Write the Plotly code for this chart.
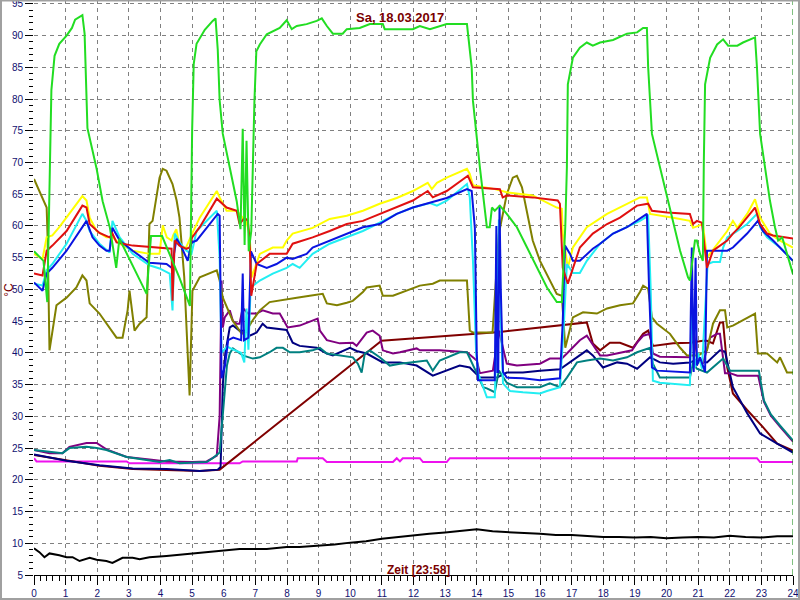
import plotly.graph_objects as go

# ---------------- data (hours, °C) ----------------
t_green = [0, 0.3, 0.42, 0.47, 0.5, 0.55, 0.65, 0.8, 1.03, 1.2, 1.3, 1.53, 1.6, 1.69, 1.98, 2.17, 2.4, 2.6, 2.7, 3.0, 3.3, 3.56, 3.7, 4.05, 4.6, 4.93, 5.0, 5.05, 5.14, 5.40, 5.65, 5.74, 5.81, 5.87, 5.97, 6.19, 6.41, 6.53, 6.60, 6.66, 6.72, 6.79, 6.87, 6.97, 7.03, 7.14, 7.36, 7.77, 7.99, 8.15, 8.31, 8.62, 8.94, 9.10, 9.26, 9.45, 9.76, 9.89, 10.30, 10.62, 11.03, 11.09, 11.98, 12.20, 12.52, 13.05, 13.69, 13.84, 13.88, 14.10, 14.26, 14.32, 14.41, 14.48, 14.57, 14.73, 14.95, 15.27, 15.59, 15.90, 16.22, 16.53, 16.69, 16.80, 16.85, 16.88, 17.04, 17.26, 17.48, 17.67, 17.90, 18.31, 18.75, 19.07, 19.26, 19.38, 19.42, 19.54, 19.79, 20.11, 20.43, 20.68, 20.74, 20.90, 20.96, 21.06, 21.15, 21.18, 21.22, 21.38, 21.60, 21.79, 21.95, 22.24, 22.42, 22.80, 22.86, 22.96, 23.12, 23.27, 23.43, 23.53, 23.66, 23.81, 24.0]
v_green = [56, 54.5, 48, 60, 72, 81.4, 86.8, 88.7, 90, 91.2, 92.5, 93.2, 90.3, 75.4, 69, 63.9, 59.7, 53.4, 58, 55, 52, 49.3, 58.4, 58.4, 51.8, 47.4, 75, 85.5, 88.7, 90.9, 92.3, 92.7, 87.8, 79.8, 74.5, 69.2, 63.9, 59.5, 75.3, 57, 73.4, 56, 59.2, 79.7, 87.5, 88.6, 90.2, 91.2, 92.4, 91, 91.5, 91.8, 92.3, 92.7, 91.5, 90.3, 90.3, 91, 91.2, 91.8, 91.8, 91, 91, 91.5, 91, 91.8, 91.8, 85, 79.7, 69.2, 62.9, 59.8, 59.8, 62.9, 62.4, 63.2, 61.9, 59.8, 56.6, 53.4, 50.3, 48, 48, 60, 69.2, 82.3, 86.5, 88.1, 88.9, 88.4, 88.9, 89.3, 90.3, 90.5, 91.2, 91.2, 85, 74.5, 69.2, 62.9, 56.1, 51.9, 51.4, 57.7, 57.7, 55.6, 54.5, 70, 82.3, 86.5, 88.6, 89.4, 88.4, 88.4, 88.9, 89.7, 85, 74.5, 69.2, 64, 59.8, 57.7, 58.2, 55.6, 52.4]

t_yellow = [0, 0.27, 0.4, 0.58, 0.8, 1.53, 1.66, 1.76, 1.98, 2.29, 2.48, 2.71, 3.12, 3.65, 3.97, 4.07, 4.2, 4.35, 4.4, 4.5, 4.6, 4.8, 5.0, 5.24, 5.78, 5.87, 6.09, 6.41, 6.5, 6.72, 6.82, 6.88, 7.14, 7.55, 7.87, 7.99, 8.18, 8.81, 9.35, 9.89, 10.4, 10.93, 11.47, 11.98, 12.45, 12.58, 12.74, 13.05, 13.69, 13.78, 13.88, 14.57, 14.95, 15.77, 16.53, 16.69, 16.72, 16.88, 17.04, 17.48, 18.12, 18.75, 19.16, 19.38, 19.48, 20.21, 20.74, 20.84, 21.15, 21.28, 21.6, 21.92, 22.10, 22.24, 22.55, 22.8, 22.96, 23.27, 23.59, 24.0]
v_yellow = [55.6, 54.8, 58.2, 58.5, 59.8, 64.7, 64, 61.3, 59.2, 58.2, 58.2, 57.2, 56.1, 55.6, 55.6, 60.1, 58.2, 57.7, 58.5, 59.5, 57, 56.5, 58.8, 61.3, 65.5, 64.5, 62.4, 62.4, 61.9, 60.5, 58.8, 51.9, 55.6, 56.6, 56.6, 57.7, 58.8, 59.7, 61.1, 61.6, 62.4, 63.5, 64.4, 65.5, 66.8, 65.8, 66.8, 67.6, 69, 68.2, 66.4, 65.8, 65.3, 64.8, 62.9, 62.7, 58.8, 53.4, 56.6, 59.8, 61.9, 63.5, 64.5, 64.5, 61.9, 61.3, 60.8, 59.7, 60.3, 55, 57.2, 59.2, 60.8, 59.7, 61.9, 64.2, 61.3, 58.8, 57.7, 56.6]

t_red = [0, 0.27, 0.4, 0.58, 1.03, 1.53, 1.66, 1.76, 2.07, 2.39, 2.48, 2.61, 3.12, 4.19, 4.35, 4.38, 4.45, 4.6, 4.82, 4.92, 5.0, 5.24, 5.78, 6.09, 6.41, 6.5, 6.66, 6.76, 6.82, 6.87, 7.04, 7.45, 7.99, 8.18, 8.81, 9.35, 9.89, 10.4, 10.93, 11.47, 11.98, 12.45, 12.61, 13.05, 13.72, 13.88, 14.51, 14.73, 14.82, 14.95, 15.77, 16.56, 16.63, 16.72, 16.88, 17.26, 17.67, 18.12, 18.53, 19.07, 19.42, 19.54, 20.02, 20.74, 20.84, 20.96, 21.12, 21.28, 21.47, 21.92, 22.10, 22.28, 22.80, 22.96, 23.18, 23.37, 24.0]
v_red = [52.5, 52.2, 56.1, 56.9, 59.2, 63.2, 62.9, 60.3, 58.9, 58.2, 58.8, 57.4, 56.9, 56.4, 56.4, 48.2, 57.7, 56.9, 56.4, 56.6, 58.2, 59.8, 64.3, 62.9, 62.4, 60.3, 61.3, 60.8, 57.7, 49, 54, 55.6, 55.6, 57.2, 58.2, 59.2, 60.3, 60.8, 61.9, 62.9, 64, 65.5, 64.5, 65.5, 67.9, 66.1, 65.8, 65.8, 64.5, 64.8, 64.5, 64, 63.5, 53.4, 50.9, 56.6, 58.8, 60.3, 61.3, 63.2, 63.5, 62.4, 62.1, 61.9, 60.3, 60.8, 60.5, 53.4, 56.1, 57.7, 58.8, 59.7, 62.9, 60.3, 58.8, 58.5, 58]

t_cyan = [0, 0.27, 0.4, 0.58, 1.03, 1.53, 1.66, 1.76, 2.07, 2.39, 2.48, 2.71, 3.12, 3.65, 3.97, 4.29, 4.38, 4.45, 4.6, 4.82, 4.98, 5.14, 5.78, 5.87, 5.93, 6.1, 6.3, 6.55, 6.65, 6.72, 6.78, 6.85, 7.14, 7.55, 7.99, 8.18, 8.4, 8.81, 9.35, 9.89, 10.4, 10.93, 11.47, 11.98, 12.52, 12.74, 13.05, 13.69, 13.78, 13.88, 13.98, 14.05, 14.32, 14.57, 14.64, 14.70, 14.76, 14.83, 15.05, 15.46, 16.0, 16.22, 16.63, 16.76, 16.85, 17.04, 17.26, 17.48, 17.90, 18.31, 18.75, 19.16, 19.42, 19.50, 19.57, 19.79, 20.74, 20.80, 20.90, 21.0, 21.12, 21.3, 21.47, 21.69, 21.79, 21.92, 22.24, 22.55, 22.86, 22.96, 23.18, 23.59, 24.0]
v_cyan = [50.9, 50.6, 53, 54, 57.2, 61.9, 60.8, 59.2, 57.2, 55.8, 60.8, 58.2, 55.6, 53.8, 53.3, 52.5, 46.7, 58.8, 57.4, 56.1, 55.6, 59.2, 62.4, 55, 40, 41, 40.5, 40, 38.5, 47, 40.5, 50.3, 51.4, 52.5, 53.4, 54, 53.4, 55.6, 57.2, 58.2, 59.2, 60.5, 61.9, 62.9, 63.6, 63.2, 64, 66.6, 64.5, 54.5, 40, 36.7, 33, 33, 45, 61, 45, 35.2, 34, 33.8, 33.6, 34, 34.6, 45, 54, 52.6, 52.6, 54.5, 57.2, 58.8, 59.8, 60.8, 61.6, 50, 35.6, 35.3, 34.9, 46.7, 37.7, 40, 37.5, 54, 54.3, 54.3, 56.6, 58.2, 59.2, 60.3, 61.9, 59.8, 58.2, 56.6, 54.5]

t_blue = [0, 0.27, 0.4, 0.58, 1.03, 1.66, 1.85, 2.07, 2.29, 2.39, 2.48, 2.71, 3.12, 3.65, 4.19, 4.35, 4.51, 4.67, 4.86, 4.98, 5.14, 5.81, 5.87, 5.93, 6.04, 6.14, 6.3, 6.55, 6.6, 6.64, 6.78, 6.86, 7.04, 7.36, 7.67, 7.99, 8.18, 8.62, 8.81, 9.35, 9.89, 10.4, 10.93, 11.47, 11.98, 12.52, 13.05, 13.69, 13.84, 13.94, 14.0, 14.04, 14.57, 14.62, 14.65, 14.68, 14.72, 14.76, 14.83, 14.95, 15.46, 16.0, 16.63, 16.72, 16.79, 16.95, 17.04, 17.26, 17.48, 17.67, 17.90, 18.31, 18.75, 19.16, 19.38, 19.45, 19.54, 19.70, 20.74, 20.80, 20.86, 20.92, 20.96, 21.06, 21.22, 21.28, 21.47, 21.92, 22.10, 22.33, 22.55, 22.89, 23.05, 23.37, 23.69, 24.0]
v_blue = [51.1, 49.8, 52.5, 53.4, 56.1, 60.8, 58.2, 56.9, 56.1, 56.1, 59.7, 57.7, 56.1, 54.2, 54, 53.4, 58, 56.6, 54.5, 57.4, 57.7, 61.9, 61.6, 36, 38, 42, 42.4, 42, 52.5, 42, 42.4, 56, 54, 53.4, 54, 55, 54.8, 55.6, 56.6, 57.7, 58.8, 59.8, 60.3, 61.9, 62.9, 63.6, 64.4, 65.8, 65.5, 59.7, 40, 35.7, 35.7, 60, 37, 37, 63.2, 50, 37, 36.1, 36, 35.7, 36, 45, 56.9, 55.6, 54.5, 54.5, 55.6, 56.4, 57.2, 58.8, 59.8, 61.1, 61.9, 50, 37.7, 37.2, 36.9, 56.6, 37, 55, 38, 39.3, 37, 56.1, 56.1, 56.1, 56.6, 57.7, 58.8, 60.8, 59.2, 57.7, 56.1, 54.5]

t_navy = [0, 1.03, 2.07, 3.12, 4.19, 5.24, 5.81, 5.9, 5.97, 6.05, 6.19, 6.29, 6.5, 6.72, 6.82, 7.04, 7.23, 7.36, 7.99, 8.18, 8.4, 8.94, 9.26, 9.45, 9.99, 10.2, 10.52, 11.03, 11.57, 12.1, 12.61, 12.83, 13.15, 13.46, 13.78, 14.1, 14.64, 14.95, 15.46, 16.0, 16.63, 17.04, 17.48, 17.67, 17.99, 18.44, 18.75, 19.07, 19.48, 19.79, 20.21, 20.74, 20.90, 21.28, 21.69, 21.85, 22.1, 22.55, 22.96, 23.5, 24.0]
v_navy = [24, 23, 22.3, 21.8, 21.7, 21.4, 21.6, 22, 35, 40, 44, 44.3, 43.5, 43.5, 42.7, 43.2, 44.6, 44, 43.6, 41.6, 41.1, 40.8, 39.9, 39.6, 40.8, 40.3, 39.9, 38.5, 38.5, 38, 36.4, 36.8, 37.5, 38, 37.7, 36.1, 36.1, 36.9, 36.9, 37.2, 37.4, 38.8, 40.4, 39.6, 37.7, 38.5, 38.3, 37.5, 39.3, 38.5, 38.3, 38.5, 38.8, 38.5, 40.4, 40.2, 34.6, 30.5, 27.3, 25.7, 24.3]

t_purple = [0, 0.49, 0.9, 1.12, 1.66, 1.98, 2.29, 2.93, 3.65, 4.19, 5.01, 5.46, 5.78, 5.87, 5.93, 5.97, 6.03, 6.19, 6.29, 6.41, 6.5, 6.6, 6.76, 7.04, 7.23, 7.55, 7.77, 8.02, 8.4, 8.97, 9.04, 9.26, 9.67, 10.08, 10.2, 10.52, 10.71, 10.93, 11.03, 11.35, 11.57, 12.1, 12.2, 12.61, 12.83, 13.69, 14.0, 14.1, 14.51, 14.70, 14.95, 15.27, 16.0, 16.31, 16.69, 16.85, 17.04, 17.26, 17.48, 17.9, 18.12, 18.62, 18.91, 19.07, 19.26, 19.48, 19.57, 19.79, 20.21, 20.74, 20.84, 20.96, 21.15, 21.38, 21.6, 21.69, 21.85, 22.01, 22.24, 22.90, 23.08, 23.3, 23.6, 24.0]
v_purple = [24.7, 24.2, 24.2, 25.2, 25.8, 25.8, 24.8, 23.6, 23.2, 22.9, 22.8, 22.9, 23.8, 30, 51.4, 44, 45.6, 46.7, 45, 44.6, 44.6, 47.1, 46.2, 46.2, 46.7, 46.2, 46.2, 44, 44.3, 45.4, 43.5, 42, 41.5, 41.6, 41.1, 43.2, 43.5, 42.7, 40.4, 39.9, 40.1, 40.7, 40.4, 40.4, 40.4, 40.1, 38.8, 36.8, 37.2, 43.5, 38.3, 38, 38.3, 39.1, 39.1, 39.9, 40.8, 42, 42.7, 39.6, 39.6, 40.1, 40.4, 41.6, 42.7, 43, 39.9, 39.4, 39.4, 39.3, 44.6, 39.5, 38.3, 42.4, 43, 43, 36.8, 36.8, 36.4, 36.4, 32.3, 30.1, 28.3, 26.0]

t_teal = [0, 0.49, 0.9, 1.12, 1.66, 1.98, 2.29, 2.93, 3.97, 4.29, 4.6, 5.46, 5.65, 5.87, 5.97, 6.1, 6.19, 6.29, 6.6, 6.92, 7.14, 7.45, 7.67, 7.87, 8.09, 8.4, 8.81, 9.04, 9.26, 9.67, 10.08, 10.24, 10.36, 10.46, 10.62, 10.93, 11.25, 11.57, 11.98, 12.42, 12.61, 12.83, 13.46, 13.69, 14.0, 14.2, 14.32, 14.57, 14.70, 14.95, 15.27, 16.0, 16.31, 16.63, 16.85, 17.17, 17.48, 17.9, 18.31, 18.75, 19.07, 19.48, 19.57, 19.79, 20.21, 20.74, 20.84, 20.96, 21.28, 21.79, 22.01, 22.33, 22.92, 23.08, 23.3, 23.6, 24.0]
v_teal = [24.7, 24.4, 24.2, 25, 25.2, 25, 24.7, 23.6, 22.8, 23.1, 22.6, 22.8, 23.4, 24.3, 30, 38, 39.9, 40.7, 39.6, 39.1, 39.3, 40.1, 40.8, 40.8, 40.1, 40.1, 40.4, 40.8, 39.9, 39.6, 39.3, 38.3, 36.9, 39.9, 40.4, 39.3, 38, 38.3, 38.5, 38.8, 37.2, 38.8, 40.1, 40.1, 36.8, 34.6, 34.4, 33.8, 37.2, 35.3, 34.6, 34.6, 35.2, 34.6, 36.1, 38.5, 38.8, 39.1, 38.8, 39.3, 40.1, 40.8, 38.3, 36.1, 36.1, 36.1, 38.5, 37.5, 36.9, 39.1, 37.2, 37.2, 37.2, 32.5, 30.3, 28.5, 26.2]

t_maroon = [0, 1.03, 2.07, 3.12, 4.19, 5.24, 5.87, 10.99, 14.73, 16.63, 17.36, 17.48, 17.67, 17.9, 18.21, 18.53, 18.94, 19.26, 19.42, 19.57, 20.21, 20.74, 21.15, 21.28, 21.47, 21.69, 21.79, 21.92, 22.1, 22.55, 23.05, 23.5, 24.0]
v_maroon = [23.9, 23.0, 22.2, 21.7, 21.6, 21.4, 21.6, 41.9, 43.3, 44.3, 44.7, 44.8, 41.5, 40.4, 41.6, 41.6, 40.8, 43.0, 43.5, 41.1, 41.5, 41.6, 41.9, 41.9, 41.5, 44.8, 44.8, 37.7, 33.6, 31.0, 28.3, 25.7, 24.6]

t_magenta = [0, 0.08, 2.93, 3.02, 6.5, 6.6, 8.31, 8.34, 9.13, 9.26, 11.35, 11.47, 11.57, 11.66, 12.2, 12.3, 13.05, 13.15, 22.86, 22.96, 24.0]
v_magenta = [23.4, 22.9, 22.9, 22.6, 22.6, 22.9, 22.9, 23.4, 23.4, 22.8, 22.8, 23.4, 22.9, 23.4, 23.4, 22.8, 22.8, 23.4, 23.4, 22.8, 22.8]

t_black = [0, 0.17, 0.33, 0.49, 0.8, 1.03, 1.22, 1.44, 1.76, 1.98, 2.29, 2.48, 2.8, 3.12, 3.34, 3.65, 4.19, 4.82, 5.46, 6.09, 6.5, 7.36, 7.99, 8.4, 9.0, 9.5, 10.0, 10.5, 11.0, 11.5, 12.0, 12.5, 13.0, 13.5, 14.0, 14.5, 15.0, 15.5, 16.0, 16.5, 17.0, 17.5, 18.0, 18.5, 19.0, 19.5, 20.0, 20.5, 21.0, 21.5, 22.0, 22.5, 23.0, 23.5, 24.0]
v_black = [9.2, 8.6, 7.8, 8.4, 8.1, 7.8, 7.8, 7.2, 7.7, 7.4, 7.2, 6.9, 7.7, 7.7, 7.5, 7.8, 8.0, 8.3, 8.6, 8.8, 9.1, 9.1, 9.4, 9.4, 9.6, 9.8, 10.1, 10.3, 10.7, 11.0, 11.2, 11.5, 11.7, 11.9, 12.2, 11.9, 11.7, 11.6, 11.5, 11.3, 11.3, 11.1, 11.0, 11.0, 10.9, 11.0, 10.8, 10.9, 11.0, 10.9, 11.2, 11.0, 10.9, 11.1, 11.1]

t_olive = [0, 0.17, 0.4, 0.43, 0.49, 0.71, 1.03, 1.34, 1.53, 1.66, 1.76, 2.07, 2.39, 2.61, 2.8, 2.96, 3.02, 3.18, 3.34, 3.56, 3.65, 3.75, 3.97, 4.07, 4.19, 4.38, 4.51, 4.6, 4.75, 4.92, 5.01, 5.24, 5.78, 5.87, 5.97, 6.28, 6.57, 6.72, 6.91, 7.14, 7.45, 7.99, 8.31, 8.72, 9.13, 9.26, 9.58, 9.89, 10.08, 10.4, 10.52, 10.93, 11.03, 11.35, 11.78, 12.2, 12.61, 12.83, 13.69, 13.78, 13.88, 14.5, 14.7, 14.95, 15.14, 15.27, 15.43, 15.59, 15.77, 16.0, 16.31, 16.53, 16.69, 16.8, 17.04, 17.36, 17.8, 18.12, 18.53, 18.94, 19.16, 19.26, 19.42, 19.54, 19.70, 20.11, 20.43, 20.65, 21.0, 21.28, 21.47, 21.69, 21.85, 21.92, 22.1, 22.55, 22.8, 22.89, 23.18, 23.5, 23.59, 23.81, 24.0]
v_olive = [67.4, 65.5, 62.9, 58.2, 40.4, 47.5, 48.7, 50.3, 52.2, 51.4, 47.8, 46.2, 44, 42.4, 42.4, 46.7, 49.8, 43.5, 44.6, 45.6, 60.3, 60.8, 67.6, 69, 68.7, 66.6, 64, 61.3, 52, 33.3, 49.8, 51.9, 53, 51.4, 48.7, 45.1, 43, 43.5, 45.1, 46.7, 48, 48.5, 48.7, 49, 49.3, 47.8, 47.5, 47.9, 48.2, 49.6, 50.3, 50.6, 49, 49, 49.8, 50.6, 50.9, 51.4, 51.4, 43.5, 43.2, 43.2, 58.8, 65, 67.6, 67.9, 66.1, 61.9, 57.7, 54.5, 51.4, 49.3, 49, 40.8, 45.6, 46.4, 46.2, 47, 47.5, 47.8, 49.6, 50.6, 50.1, 45.6, 44.6, 43, 40.8, 39.6, 39.6, 40.4, 44.6, 46.7, 46.7, 44, 44.3, 45.6, 46.2, 39.9, 39.9, 38.5, 39.3, 36.9, 36.9]

x_ticks = list(range(0, 25))
y_ticks = list(range(5, 96, 5))
title_text = "Sa, 18.03.2017"
x_label = "Zeit [23:58]"
y_label = "°C"

# ---------------- figure ----------------
series = [
    (t_black, v_black, "#000000"),
    (t_magenta, v_magenta, "#ee11ee"),
    (t_maroon, v_maroon, "#800000"),
    (t_navy, v_navy, "#000080"),
    (t_purple, v_purple, "#800080"),
    (t_teal, v_teal, "#008080"),
    (t_olive, v_olive, "#808000"),
    (t_yellow, v_yellow, "#ffff00"),
    (t_cyan, v_cyan, "#22eef2"),
    (t_blue, v_blue, "#0a14e0"),
    (t_red, v_red, "#e01010"),
    (t_green, v_green, "#22dd22"),
]

fig = go.Figure()
for tx, vy, col in series:
    fig.add_trace(go.Scatter(x=tx, y=vy, mode="lines",
                             line=dict(color=col, width=2), hoverinfo="skip"))

tick_font = dict(family="Liberation Sans Narrow, Arial Narrow, sans-serif", size=10, color="#101070")

fig.update_layout(
    width=800, height=600,
    margin=dict(l=34, r=7, t=0, b=25, autoexpand=False),
    paper_bgcolor="white", plot_bgcolor="white",
    showlegend=False,
    xaxis=dict(range=[0, 24], tickvals=x_ticks, ticktext=[str(v) for v in x_ticks],
               automargin=False, ticklabeloverflow="allow",
               showgrid=True, gridcolor="#808080", griddash="4px,4px", gridwidth=1,
               zeroline=False, showline=True, linecolor="black", linewidth=1,
               ticks="outside", ticklen=9, tickcolor="black", tickfont=tick_font,
               minor=dict(dtick=0.2, tick0=0, ticks="outside", ticklen=5, tickcolor="black", showgrid=False)),
    yaxis=dict(range=[5, 95.6], tickvals=y_ticks, ticktext=[str(v) for v in y_ticks],
               automargin=False, ticklabeloverflow="allow",
               showgrid=True, gridcolor="#808080", griddash="4px,4px", gridwidth=1,
               zeroline=False, showline=False,
               ticks="outside", ticklen=8, tickcolor="black", tickfont=tick_font,
               minor=dict(dtick=1, tick0=5, ticks="outside", ticklen=4, tickcolor="black", showgrid=False)),
)

# cursor line at the right end
fig.add_shape(type="line", xref="x", yref="paper", x0=24, x1=24, y0=0, y1=1,
              line=dict(color="#008000", width=1, dash="6px,4px"))
# window frame
fig.add_shape(type="rect", xref="paper", yref="paper",
              x0=-33 / 759, x1=765 / 759, y0=-24 / 575, y1=0.999,
              line=dict(color="#a0a0a0", width=2), fillcolor="rgba(0,0,0,0)", layer="above")

fig.add_annotation(text="<b>" + title_text + "</b>", xref="paper", yref="paper", x=0.482, y=0.97,
                   showarrow=False, xanchor="center", yanchor="middle",
                   font=dict(family="Liberation Sans, Arial, sans-serif", size=13, color="#7a0000"))
fig.add_annotation(text="<b>" + x_label + "</b>", xref="paper", yref="paper", x=0.506, y=0.0,
                   showarrow=False, xanchor="center", yanchor="bottom", yshift=-4,
                   font=dict(family="Liberation Sans Narrow, Arial Narrow, sans-serif", size=12, color="#7a0000"))
fig.add_annotation(text=y_label, xref="paper", yref="paper", x=-0.033, y=0.496,
                   showarrow=False, textangle=-90, xanchor="center", yanchor="middle",
                   font=dict(family="Liberation Sans, Arial, sans-serif", size=12, color="#7a0000"))

fig.write_html("out.html", config={"displayModeBar": False},
               post_script="document.body.style.margin='0';document.body.style.padding='0';document.body.style.overflow='hidden';")
